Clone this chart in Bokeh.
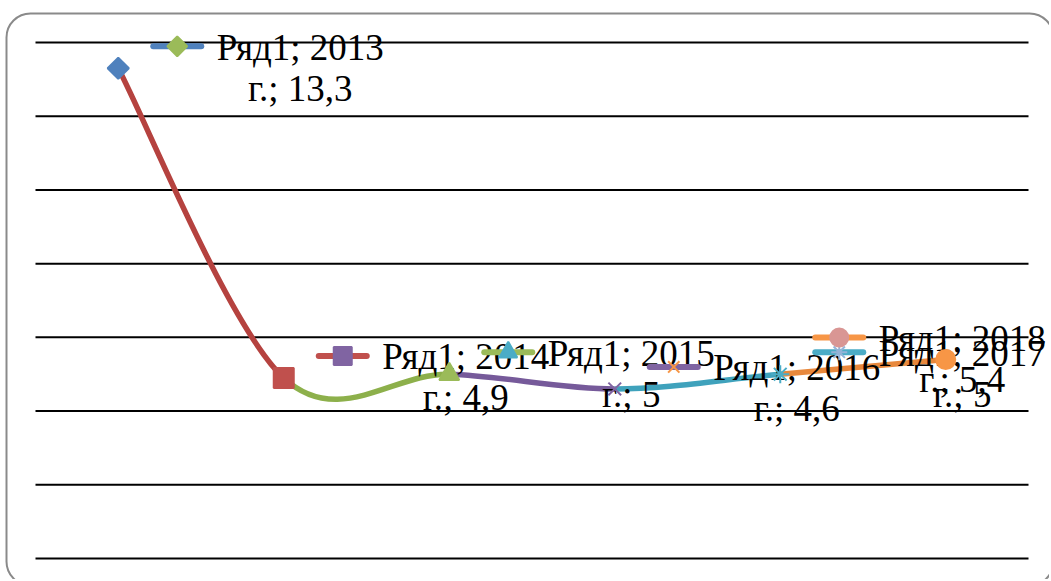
import numpy as np
from bokeh.plotting import figure
from bokeh.models import Range1d, ColumnDataSource, BoxAnnotation
from bokeh.core.properties import value
from bokeh.embed import file_html
from bokeh.resources import INLINE

# ---- data ----
series_name = "Ряд1"
years = ["2013", "2014", "2015", "2016", "2017", "2018"]
values = [13.3, 4.9, 5.0, 4.6, 5.0, 5.4]
grid_ticks = [0, 2, 4, 6, 8, 10, 12, 14]

point_colors = ["#4F81BD", "#C0504D", "#9BBB59", "#8064A2", "#4BACC6", "#F79646"]
point_markers = ["square", "square", "triangle", "x", "asterisk", "circle"]
point_angles = [np.pi / 4, 0, 0, 0, 0, 0]
point_sizes = [15, 20, 20, 18, 18, 19]
segment_colors = ["#B5423F", "#8DB04B", "#765A9A", "#3FA2BC", "#E8883C"]
key_line_colors = ["#4F81BD", "#C0504D", "#9BBB59", "#8064A2", "#4BACC6", "#F79646"]
key_marker_colors = ["#9BBB59", "#8064A2", "#4BACC6", "#F79646", "#95B3D7", "#D99694"]
key_sizes = [14, 18, 18, 16, 16, 18]

# ---- geometry (pixels inside the figure) ----
W, H = 1049, 579
plot_left, plot_right = 35, 1028      # where the category band starts / ends
plot_top, plot_bottom = 42, 558       # where y=14 / y=0 lie
cat_lo, cat_hi = -0.5, len(years) - 0.5
ux = (cat_hi - cat_lo) / (plot_right - plot_left)
uy = (grid_ticks[-1] - grid_ticks[0]) / (plot_bottom - plot_top)
x_lo = cat_lo - plot_left * ux
x_hi = cat_hi + (W - plot_right) * ux
y_hi = grid_ticks[-1] + plot_top * uy
y_lo = grid_ticks[0] - (H - plot_bottom) * uy

p = figure(width=W, height=H, x_range=Range1d(x_lo, x_hi), y_range=Range1d(y_lo, y_hi),
           output_backend="svg", toolbar_location=None,
           min_border_left=0, min_border_right=0, min_border_top=0, min_border_bottom=0)
p.xaxis.visible = False
p.yaxis.visible = False
p.xgrid.visible = False
p.ygrid.visible = False
p.outline_line_color = None
p.background_fill_color = "white"
p.border_fill_color = "white"

# rounded chart-area border (partly beyond the window, as in the original)
p.add_layout(BoxAnnotation(left=x_lo + 6 * ux, right=x_lo + 1053 * ux,
                           top=y_hi - 13 * uy, bottom=y_hi - 585 * uy,
                           fill_color=None, fill_alpha=0, line_color="#8a8a8a",
                           line_alpha=1, line_width=2, border_radius=24))

# horizontal gridlines across the category band
p.segment(x0=[cat_lo] * len(grid_ticks), x1=[cat_hi] * len(grid_ticks),
          y0=grid_ticks, y1=grid_ticks, line_color="black", line_width=2)

n = len(values)
xs = np.arange(n, dtype=float)
ys = np.array(values, dtype=float)

# smoothed line (Catmull-Rom style bezier segments)
seg = dict(x0=[], y0=[], x1=[], y1=[], cx0=[], cy0=[], cx1=[], cy1=[], color=segment_colors)
for i in range(n - 1):
    a, b = max(i - 1, 0), min(i + 2, n - 1)
    seg["x0"].append(xs[i]); seg["y0"].append(ys[i])
    seg["x1"].append(xs[i + 1]); seg["y1"].append(ys[i + 1])
    seg["cx0"].append(xs[i] + (xs[i + 1] - xs[a]) / 6)
    seg["cy0"].append(ys[i] + (ys[i + 1] - ys[a]) / 6)
    seg["cx1"].append(xs[i + 1] - (xs[b] - xs[i]) / 6)
    seg["cy1"].append(ys[i + 1] - (ys[b] - ys[i]) / 6)
p.bezier(x0="x0", y0="y0", x1="x1", y1="y1", cx0="cx0", cy0="cy0", cx1="cx1", cy1="cy1",
         line_color="color", line_width=5.5, source=ColumnDataSource(seg))

# data label texts
fmt = lambda v: f"{v:g}".replace(".", ",")
line1 = [f"{series_name}; {y}" for y in years]
line2 = [f"г.; {fmt(v)}" for v in values]
lab_x = np.minimum(xs, n - 2)
tx = lab_x + 182 * ux
common = dict(text_font=value("Liberation Serif"), text_font_size="37px",
              text_color="black", text_align="center", text_baseline="alphabetic")
p.text(x=tx, y=ys, text=line1, y_offset=-21, **common)
p.text(x=tx, y=ys, text=line2, y_offset=20, **common)

# legend keys inside the data labels
key_cx = lab_x + 59 * ux
key_y = ys + 22 * uy
p.segment(x0=key_cx - 24 * ux, x1=key_cx + 24 * ux, y0=key_y, y1=key_y,
          line_color=key_line_colors, line_width=6, line_cap="round")
p.scatter(x=key_cx, y=key_y, marker=point_markers, angle=point_angles, size=key_sizes,
          fill_color=key_marker_colors, line_color=key_marker_colors, line_width=2)

# point markers on top
pts = ColumnDataSource(dict(x=xs, y=ys, color=point_colors, marker=point_markers,
                            angle=point_angles, size=point_sizes))
p.scatter(x="x", y="y", marker="marker", size="size", angle="angle",
          fill_color="color", line_color="color", line_width=2, source=pts)

open("out.html", "w").write(file_html(p, INLINE))
